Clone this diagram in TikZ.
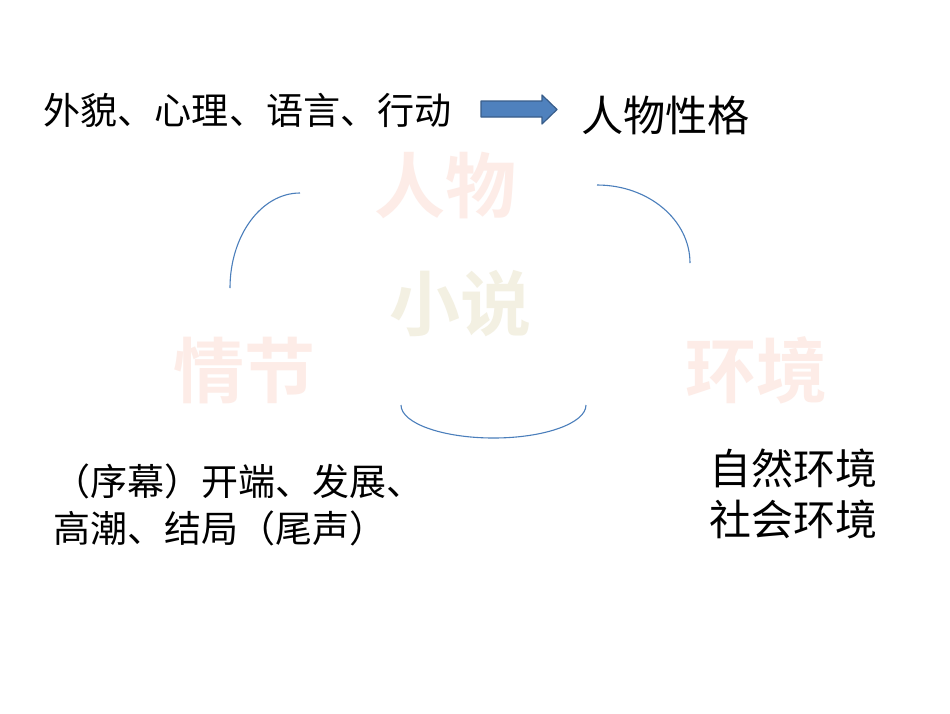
\documentclass[tikz,border=0pt]{standalone}
\usepackage{fontspec}
\setmainfont{Noto Sans CJK SC}[BoldFont={Noto Sans CJK SC Bold}]
\definecolor{faintpink}{RGB}{253,236,231}
\definecolor{faintbeige}{RGB}{243,240,226}
\definecolor{arcblue}{RGB}{74,126,187}
\definecolor{arrowfill}{RGB}{79,129,189}
\definecolor{arrowedge}{RGB}{56,93,138}
\tikzset{
  txt/.style={inner sep=0pt, outer sep=0pt, text=black},
  bigword/.style={inner sep=0pt, outer sep=0pt, anchor=base, font=\fontsize{71}{80}\selectfont\bfseries},
  arcline/.style={draw=arcblue, line width=1.1pt},
}
\begin{document}
\begin{tikzpicture}[x=1pt,y=-1pt]
\useasboundingbox (0,0) rectangle (950,713);
\fill[white] (0,0) rectangle (950,713);

% faint background words
\node[bigword, text=faintpink] (renwu) at (445,212) {人物};
\node[bigword, text=faintbeige] (xiaoshuo) at (460,330) {小说};
\node[bigword, text=faintpink] (qingjie) at (244,397) {情节};
\node[bigword, text=faintpink] (huanjing) at (756,397) {环境};

% top line
\node[txt, anchor=base west, font=\fontsize{37.1}{45}\selectfont] (traits) at (43.5,124) {外貌、心理、语言、行动};
\node[txt, anchor=base west, font=\fontsize{42.2}{48}\selectfont] (character) at (581,131) {人物性格};

% block arrow
\draw[fill=arrowfill, draw=arrowedge, line width=1.2pt, line join=round]
  (481,101) -- (542,101) -- (542,95) -- (557,109.5) -- (542,124) -- (542,117) -- (481,117) -- cycle;

% bottom texts
\node[txt, anchor=base west, font=\fontsize{37}{46}\selectfont] (plot1) at (53.5,495) {（序幕）开端、发展、};
\node[txt, anchor=base west, font=\fontsize{37}{46}\selectfont] (plot2) at (53.5,542) {高潮、结局（尾声）};
\node[txt, anchor=base east, font=\fontsize{42}{48}\selectfont] (env1) at (877,484) {自然环境};
\node[txt, anchor=base east, font=\fontsize{42}{48}\selectfont] (env2) at (877,535) {社会环境};

% arcs
\coordinate (la) at (300,193);
\coordinate (lb) at (230,288);
\draw[arcline] (la) .. controls (261.3,193) and (230,235.5) .. (lb);
\coordinate (ra) at (597,185);
\coordinate (rb) at (690,263);
\draw[arcline] (ra) .. controls (648.4,185) and (690,219.9) .. (rb);
\coordinate (ba) at (401,405);
\coordinate (bm) at (493.5,438);
\coordinate (bb) at (586,405);
\draw[arcline] (ba) .. controls (401,423.2) and (442.4,438) .. (bm) .. controls (544.6,438) and (586,423.2) .. (bb);
\end{tikzpicture}
\end{document}
